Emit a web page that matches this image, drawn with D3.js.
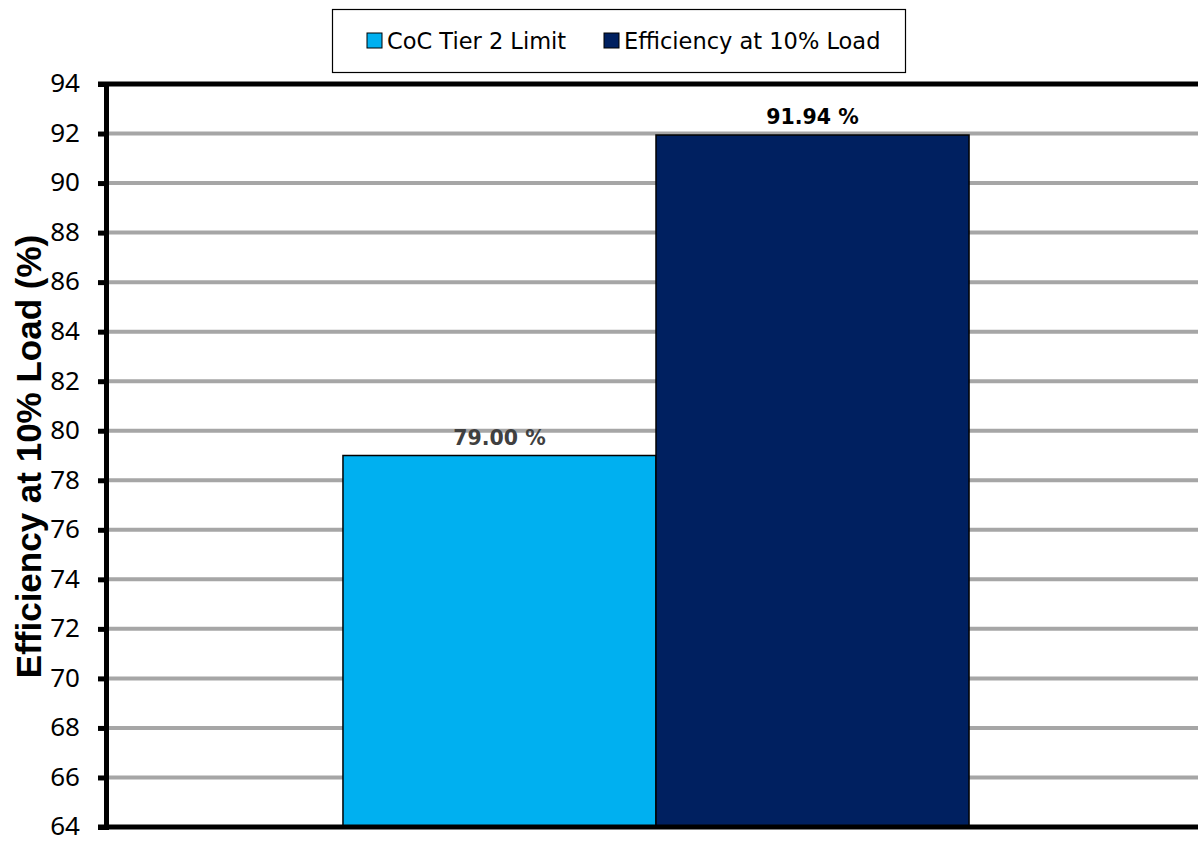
<!DOCTYPE html>
<html>
<head>
<meta charset="utf-8">
<script src="https://cdn.jsdelivr.net/npm/d3@7"></script>
<style>
  body { margin: 0; background: #fff; }
  svg { display: block; }
</style>
</head>
<body>
<svg width="1198" height="842"></svg>
<script>
// Chart data
const seriesNames = ['CoC Tier 2 Limit', 'Efficiency at 10% Load'];
const seriesValues = [79.00, 91.94];
const seriesColors = ['#00b0f0', '#002060'];
const labelColors = ['#404040', '#000000'];
const yTicks = [64, 66, 68, 70, 72, 74, 76, 78, 80, 82, 84, 86, 88, 90, 92, 94];

const svg = d3.select('svg');
const margin = { left: 106, top: 84, right: -8, bottom: 15 };
const width = 1198 - margin.left - margin.right;
const height = 842 - margin.top - margin.bottom;

const g = svg.append('g').attr('transform', `translate(${margin.left},${margin.top})`);

const y = d3.scaleLinear().domain([64, 94]).range([height, 0]);
// single category, two series side by side
const x = d3.scaleBand().domain(seriesNames).range([0, width]).paddingOuter(0.757).paddingInner(0);

// Gridlines
g.selectAll('.grid')
  .data(yTicks.filter((t) => t > 64 && t < 94))
  .enter()
  .append('line')
  .attr('x1', 0)
  .attr('x2', width)
  .attr('y1', (d) => y(d))
  .attr('y2', (d) => y(d))
  .attr('stroke', '#a6a6a6')
  .attr('stroke-width', 4);

// Bars
g.selectAll('.bar')
  .data(seriesValues)
  .enter()
  .append('rect')
  .attr('x', (d, i) => x(seriesNames[i]))
  .attr('y', (d) => y(d))
  .attr('width', x.bandwidth())
  .attr('height', (d) => y(64) - y(d))
  .attr('fill', (d, i) => seriesColors[i])
  .attr('stroke', '#000')
  .attr('stroke-width', 1.5);

// Value labels
g.selectAll('.val')
  .data(seriesValues)
  .enter()
  .append('text')
  .attr('x', (d, i) => x(seriesNames[i]) + x.bandwidth() / 2)
  .attr('y', (d) => y(d) - 11)
  .attr('text-anchor', 'middle')
  .attr('font-family', 'DejaVu Sans')
  .attr('font-weight', 'bold')
  .attr('font-size', '20.5px')
  .attr('fill', (d, i) => labelColors[i])
  .text((d) => d.toFixed(2) + ' %');

// Top and bottom frame lines
g.append('line')
  .attr('x1', -8).attr('x2', width)
  .attr('y1', y(94)).attr('y2', y(94))
  .attr('stroke', '#000').attr('stroke-width', 5);
g.append('line')
  .attr('x1', -8).attr('x2', width)
  .attr('y1', y(64)).attr('y2', y(64))
  .attr('stroke', '#000').attr('stroke-width', 5);

// Y axis
const yAxis = g.append('g')
  .call(d3.axisLeft(y).tickValues(yTicks).tickSize(8).tickPadding(18).tickFormat(d3.format('d')));
yAxis.select('.domain').attr('stroke', '#000').attr('stroke-width', 5);
yAxis.selectAll('.tick line').attr('stroke', '#000').attr('stroke-width', 5);
yAxis.selectAll('.tick text')
  .attr('font-family', 'Noto Sans')
  .attr('font-size', '26px')
  .attr('dy', '0.3em')
  .attr('fill', '#000');

// Y axis title
svg.append('text')
  .attr('transform', `translate(41,${margin.top + height / 2 + 1}) rotate(-90)`)
  .attr('text-anchor', 'middle')
  .attr('font-family', 'Liberation Sans')
  .attr('font-weight', 'bold')
  .attr('font-size', '35px')
  .attr('fill', '#000')
  .text('Efficiency at 10% Load (%)');

// Legend
const legend = svg.append('g');
legend.append('rect')
  .attr('x', 332.5).attr('y', 9.5)
  .attr('width', 573).attr('height', 63)
  .attr('fill', '#fff')
  .attr('stroke', '#000')
  .attr('stroke-width', 1.2);

const legendX = [367, 604];
seriesNames.forEach((name, i) => {
  legend.append('rect')
    .attr('x', legendX[i]).attr('y', 33)
    .attr('width', 15).attr('height', 15)
    .attr('fill', seriesColors[i])
    .attr('stroke', '#000')
    .attr('stroke-width', 1);
  legend.append('text')
    .attr('x', legendX[i] + 20)
    .attr('y', 49)
    .attr('font-family', 'DejaVu Sans')
    .attr('font-size', '22.5px')
    .attr('fill', '#000')
    .text(name);
});
</script>
</body>
</html>
